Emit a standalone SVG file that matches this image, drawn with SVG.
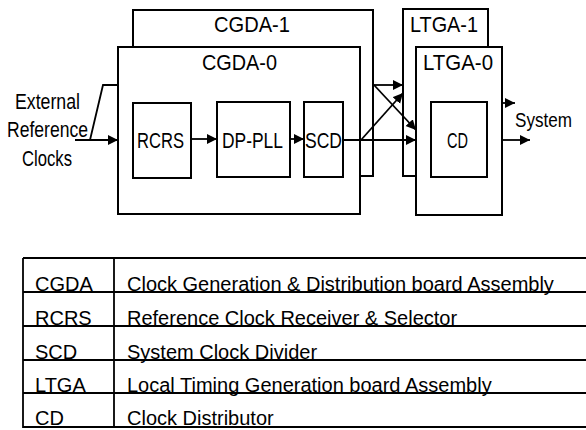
<svg xmlns="http://www.w3.org/2000/svg" width="586" height="430" viewBox="0 0 586 430">
<style>
.box{fill:#fff;stroke:#000;stroke-width:2}
.lbl{font-family:"Liberation Sans",Arial,sans-serif;font-size:22px;fill:#000}
.tbl{font-family:"Liberation Sans",Arial,sans-serif;font-size:20px;fill:#000}
.con{fill:none;stroke:#000;stroke-width:1.8}
.tl{stroke:#000;stroke-width:1.8}
</style>
<defs>
<marker id="ah" markerUnits="userSpaceOnUse" markerWidth="11" markerHeight="11" refX="10" refY="5" orient="auto">
<path d="M0,0 L10,5 L0,10 z" fill="#000"/>
</marker>
</defs>
<rect width="586" height="430" fill="#fff"/>
<g id="cgda1"><rect class="box" x="133" y="10" width="240" height="166"/>
<text class="lbl" x="214" y="32" textLength="76" lengthAdjust="spacingAndGlyphs">CGDA-1</text></g>
<g id="cgda0"><rect class="box" x="118" y="47" width="242" height="167"/>
<text class="lbl" x="202" y="70" textLength="75" lengthAdjust="spacingAndGlyphs">CGDA-0</text></g>
<g id="ltga1"><rect class="box" x="403" y="9" width="85" height="167"/>
<text class="lbl" x="410" y="32" textLength="68" lengthAdjust="spacingAndGlyphs">LTGA-1</text></g>
<g id="ltga0"><rect class="box" x="416" y="47" width="86" height="168"/>
<text class="lbl" x="423" y="70" textLength="70" lengthAdjust="spacingAndGlyphs">LTGA-0</text></g>
<g id="rcrs"><rect class="box" x="133" y="103" width="58" height="75"/>
<text class="lbl" x="137" y="148" textLength="47" lengthAdjust="spacingAndGlyphs">RCRS</text></g>
<g id="dppll"><rect class="box" x="217" y="102" width="73" height="75"/>
<text class="lbl" x="222" y="148" textLength="61" lengthAdjust="spacingAndGlyphs">DP-PLL</text></g>
<g id="scd"><rect class="box" x="304" y="102" width="39" height="75"/>
<text class="lbl" x="305" y="148" textLength="37" lengthAdjust="spacingAndGlyphs">SCD</text></g>
<g id="cd"><rect class="box" x="431" y="102" width="56" height="75"/>
<text class="lbl" x="447" y="148" textLength="21" lengthAdjust="spacingAndGlyphs">CD</text></g>
<g id="ext">
<text class="lbl" x="15" y="109" textLength="65" lengthAdjust="spacingAndGlyphs">External</text>
<text class="lbl" x="7" y="137" textLength="81" lengthAdjust="spacingAndGlyphs">Reference</text>
<text class="lbl" x="22" y="166" textLength="50" lengthAdjust="spacingAndGlyphs">Clocks</text>
</g>
<g id="system"><text class="lbl" style="font-size:20px" x="515" y="127" textLength="57" lengthAdjust="spacingAndGlyphs">System</text></g>
<g id="connectors">
<line class="con" x1="75" y1="140" x2="118" y2="140" marker-end="url(#ah)"/>
<polyline class="con" points="90,140 103,85 118,85"/>
<line class="con" x1="191" y1="139" x2="217" y2="139" marker-end="url(#ah)"/>
<line class="con" x1="290" y1="139" x2="304" y2="139" marker-end="url(#ah)"/>
<line class="con" x1="343" y1="140" x2="416" y2="140" marker-end="url(#ah)"/>
<line class="con" x1="361" y1="140" x2="403" y2="93" marker-end="url(#ah)"/>
<line class="con" x1="373" y1="85" x2="403" y2="85" marker-end="url(#ah)"/>
<line class="con" x1="374" y1="85" x2="416" y2="130" marker-end="url(#ah)"/>
<line class="con" x1="502" y1="103" x2="515" y2="103" marker-end="url(#ah)"/>
<line class="con" x1="502" y1="140" x2="530" y2="140" marker-end="url(#ah)"/>
</g>
<g id="table">
<line class="tl" x1="23" y1="258" x2="586" y2="258"/>
<line class="tl" x1="23" y1="292" x2="586" y2="292"/>
<line class="tl" x1="23" y1="326" x2="586" y2="326"/>
<line class="tl" x1="23" y1="360" x2="586" y2="360"/>
<line class="tl" x1="23" y1="393" x2="586" y2="393"/>
<line class="tl" x1="23" y1="427" x2="586" y2="427"/>
<line class="tl" x1="23" y1="258" x2="23" y2="428"/>
<line class="tl" x1="114" y1="258" x2="114" y2="428"/>
<text class="tbl" x="35" y="291">CGDA</text>
<text class="tbl" x="127" y="291">Clock Generation &amp; Distribution board Assembly</text>
<text class="tbl" x="35" y="325">RCRS</text>
<text class="tbl" x="127" y="325">Reference Clock Receiver &amp; Selector</text>
<text class="tbl" x="35" y="359">SCD</text>
<text class="tbl" x="127" y="359">System Clock Divider</text>
<text class="tbl" x="35" y="392">LTGA</text>
<text class="tbl" x="127" y="392">Local Timing Generation board Assembly</text>
<text class="tbl" x="35" y="425">CD</text>
<text class="tbl" x="127" y="425">Clock Distributor</text>
</g>
</svg>
